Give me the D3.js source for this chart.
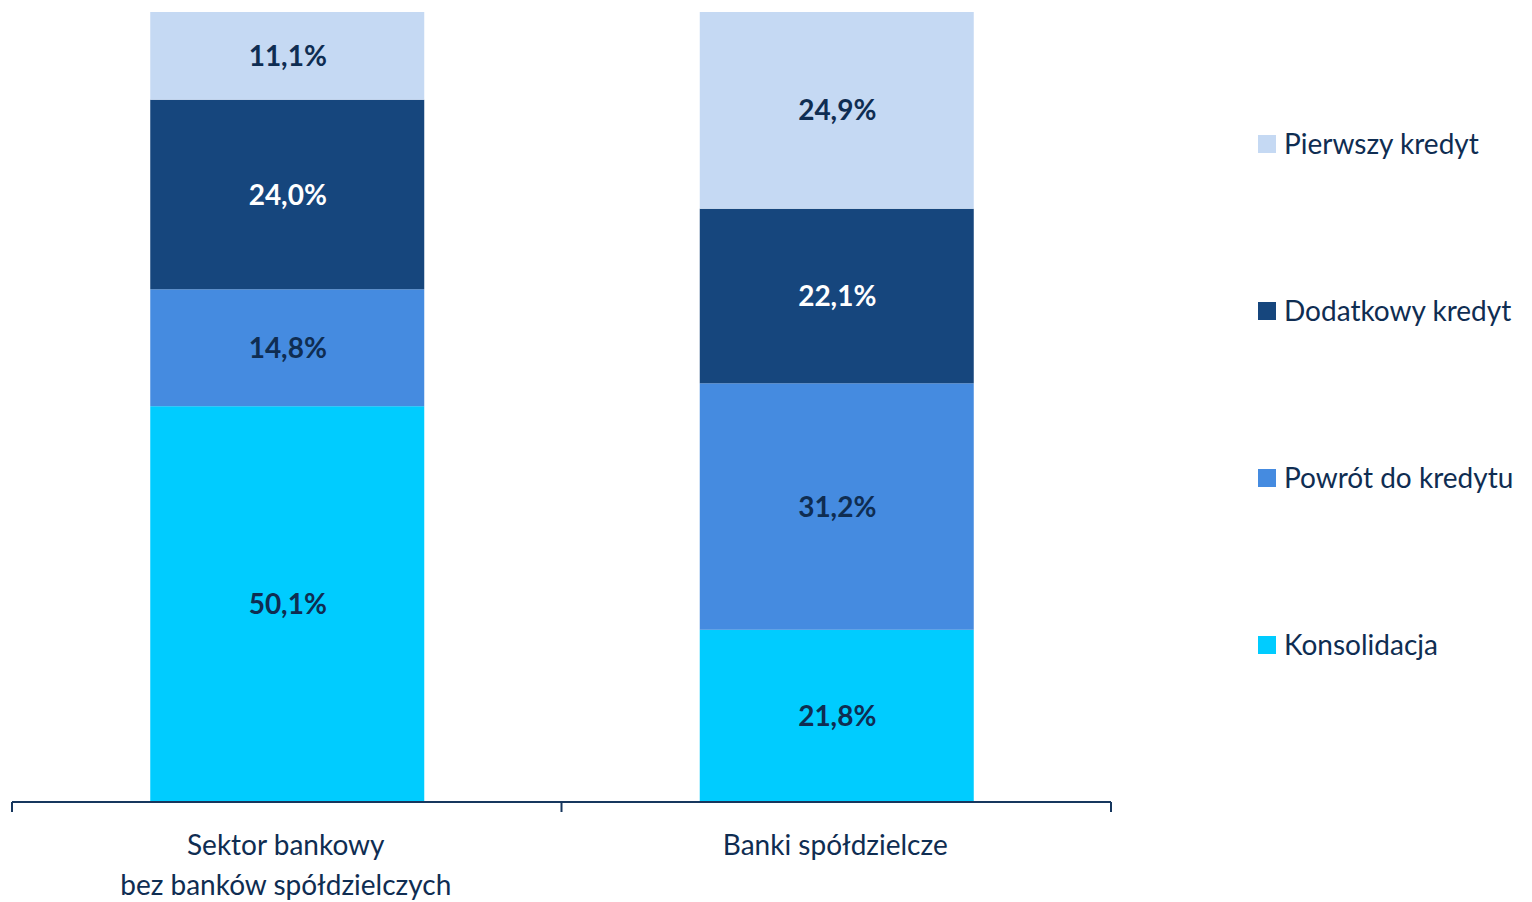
<!DOCTYPE html>
<html lang="pl">
<head>
  <meta charset="utf-8">
  <title>Struktura kredytów</title>
  <script src="https://d3js.org/d3.v7.min.js"></script>
  <style>
    body { margin: 0; background: #fff; }
    svg text { font-family: Lato, "Open Sans", sans-serif; }
  </style>
</head>
<body>
<script>
  // categories and series (percent shares, bottom to top)
  var categories = [["Sektor bankowy", "bez banków spółdzielczych"], ["Banki spółdzielcze"]];
  var categoryKeys = ["sektor", "banki"];
  var seriesNames = ["Konsolidacja", "Powrót do kredytu", "Dodatkowy kredyt", "Pierwszy kredyt"];
  var konsolidacja = [50.1, 21.8];
  var powrot = [14.8, 31.2];
  var dodatkowy = [24.0, 22.1];
  var pierwszy = [11.1, 24.9];
  var colors = ["#00CCFF", "#458BE0", "#16467D", "#C5D9F3"];
  var labelColors = ["#0F2D52", "#0F2D52", "#ffffff", "#0F2D52"];

  var width = 1532, height = 902;
  var svg = d3.select("body").append("svg")
    .attr("width", width).attr("height", height);

  var x = d3.scaleBand().domain(categoryKeys).range([12, 1111]).padding(0);
  var y = d3.scaleLinear().domain([0, 100]).range([802, 12]);
  var barW = 274;

  var rows = categoryKeys.map(function(k, i) {
    return { key: k, Konsolidacja: konsolidacja[i], "Powrót do kredytu": powrot[i],
             "Dodatkowy kredyt": dodatkowy[i], "Pierwszy kredyt": pierwszy[i] };
  });
  var stacked = d3.stack().keys(seriesNames)(rows);

  var fmt = function(v) { return d3.format(".1f")(v).replace(".", ",") + "%"; };

  var layers = svg.selectAll("g.layer").data(stacked).enter()
    .append("g").attr("class", "layer")
    .attr("fill", function(d, i) { return colors[i]; });

  layers.selectAll("rect").data(function(d) { return d; }).enter()
    .append("rect")
    .attr("x", function(d) { return x(d.data.key) + (x.bandwidth() - barW) / 2 + 0.5; })
    .attr("width", barW)
    .attr("y", function(d) { return y(d[1]); })
    .attr("height", function(d) { return y(d[0]) - y(d[1]); });

  layers.each(function(layer, li) {
    d3.select(this).selectAll("text").data(layer).enter()
      .append("text")
      .attr("x", function(d) { return x(d.data.key) + x.bandwidth() / 2 + 1; })
      .attr("y", function(d) { return (y(d[0]) + y(d[1])) / 2; })
      .attr("dy", "0.36em")
      .attr("text-anchor", "middle")
      .attr("font-size", "28px")
      .attr("font-weight", "bold")
      .attr("fill", labelColors[li])
      .text(function(d) { return fmt(d[1] - d[0]); });
  });

  // category axis
  var axis = svg.append("g").attr("stroke", "#17375E").attr("stroke-width", 2);
  axis.append("line").attr("x1", 12).attr("x2", 1111).attr("y1", 802).attr("y2", 802);
  var edges = [x(categoryKeys[0])].concat(categoryKeys.map(function(k) { return x(k) + x.bandwidth(); }));
  axis.selectAll("line.tick").data(edges).enter().append("line")
    .attr("class", "tick")
    .attr("x1", function(d) { return d; }).attr("x2", function(d) { return d; })
    .attr("y1", 802).attr("y2", 812);

  svg.selectAll("text.cat").data(categoryKeys).enter()
    .append("text").attr("class", "cat")
    .attr("x", function(d) { return x(d) + x.bandwidth() / 2 - 1; })
    .attr("y", 855)
    .attr("text-anchor", "middle")
    .attr("font-size", "28px")
    .attr("fill", "#0F2D52")
    .each(function(d, i) {
      var t = d3.select(this);
      categories[i].forEach(function(line, j) {
        t.append("tspan").attr("x", x(d) + x.bandwidth() / 2 - 1)
          .attr("dy", j === 0 ? 0 : 40).text(line);
      });
    });

  // legend (top to bottom)
  var legendOrder = seriesNames.slice().reverse();
  var ly = d3.scalePoint().domain(legendOrder).range([144, 645]);
  var legend = svg.selectAll("g.legend").data(legendOrder).enter()
    .append("g").attr("class", "legend")
    .attr("transform", function(d) { return "translate(1258," + ly(d) + ")"; });
  legend.append("rect").attr("x", 0).attr("y", -9).attr("width", 18).attr("height", 18)
    .attr("fill", function(d) { return colors[seriesNames.indexOf(d)]; });
  legend.append("text").attr("x", 26).attr("y", 0).attr("dy", "0.36em")
    .attr("font-size", "28px").attr("fill", "#0F2D52")
    .text(function(d) { return d; });
</script>
</body>
</html>
